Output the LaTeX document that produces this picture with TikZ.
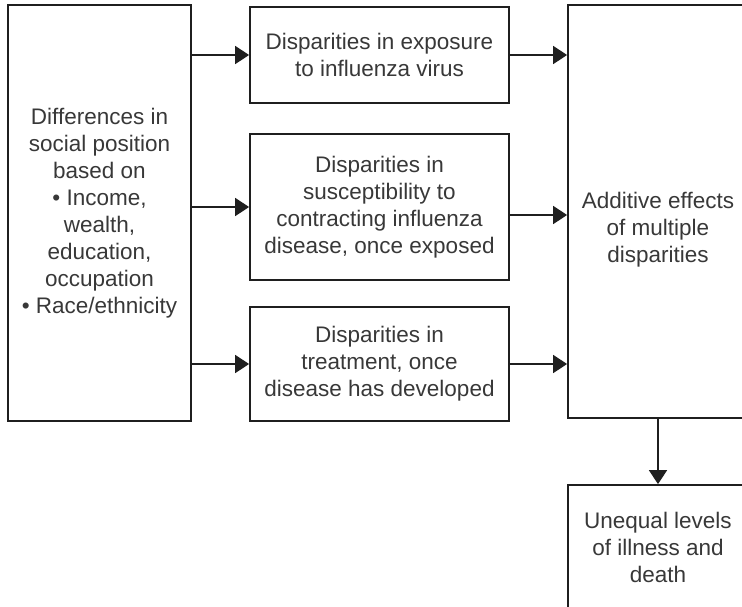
\documentclass[tikz,border=0pt]{standalone}
\usepackage{fontspec}
\setmainfont{Liberation Sans}
\usetikzlibrary{positioning,arrows.meta,calc}
\definecolor{boxline}{gray}{0.12}
\definecolor{boxtext}{gray}{0.22}
\tikzset{
    flow box/.style={
        rectangle,
        draw=boxline,
        line width=1.8pt,
        align=center,
        text=boxtext,
        font=\fontsize{22.5}{27}\selectfont,
        inner sep=0pt,
    },
    connector/.style={
        draw=boxline,
        line width=1.8pt,
        -{Triangle[length=14pt,width=18pt]},
    },
}

\begin{document}
\begin{tikzpicture}[x=1pt,y=-1pt]
        \useasboundingbox (0,0) rectangle (742,606);
        \node[flow box,minimum width=183pt,minimum height=416pt](diff) at (99.5,213) {Differences in\\ social position\\ based on\\ \textbullet{} Income,\\ wealth,\\ education,\\ occupation\\ \textbullet{} Race/ethnicity};
        \node[flow box,minimum width=259pt,minimum height=96pt](expo) at (379.5,55) {Disparities in exposure\\ to influenza virus};
        \node[flow box,minimum width=259pt,minimum height=146pt](susc) at (379.5,207) {Disparities in\\ susceptibility to\\ contracting influenza\\ disease, once exposed};
        \node[flow box,minimum width=259pt,minimum height=114pt](treat) at (379.5,364) {Disparities in\\ treatment, once\\ disease has developed};
        \node[flow box,minimum width=180pt,minimum height=413pt](add) at (658,211.5) {};
        \node[flow box,draw=none](addtext) at ([yshift=-18pt]add.center) {Additive effects\\ of multiple\\ disparities};
        \node[flow box,minimum width=180pt,minimum height=124pt](outc) at (658,547) {Unequal levels\\ of illness and\\ death};
        % social position -> disparities
        \draw[connector] (diff.east |- expo.west) -- (expo.west);
        \draw[connector] (diff.east |- susc.west) -- (susc.west);
        \draw[connector] (diff.east |- treat.west) -- (treat.west);
        % disparities -> additive effects
        \draw[connector] (expo.east) -- (expo.east -| add.west);
        \draw[connector] ([yshift=-8pt]susc.east) -- ([yshift=-8pt]susc.east -| add.west);
        \draw[connector] (treat.east) -- (treat.east -| add.west);
        \draw[connector] (add.south) -- (outc.north);
\end{tikzpicture}
\end{document}
